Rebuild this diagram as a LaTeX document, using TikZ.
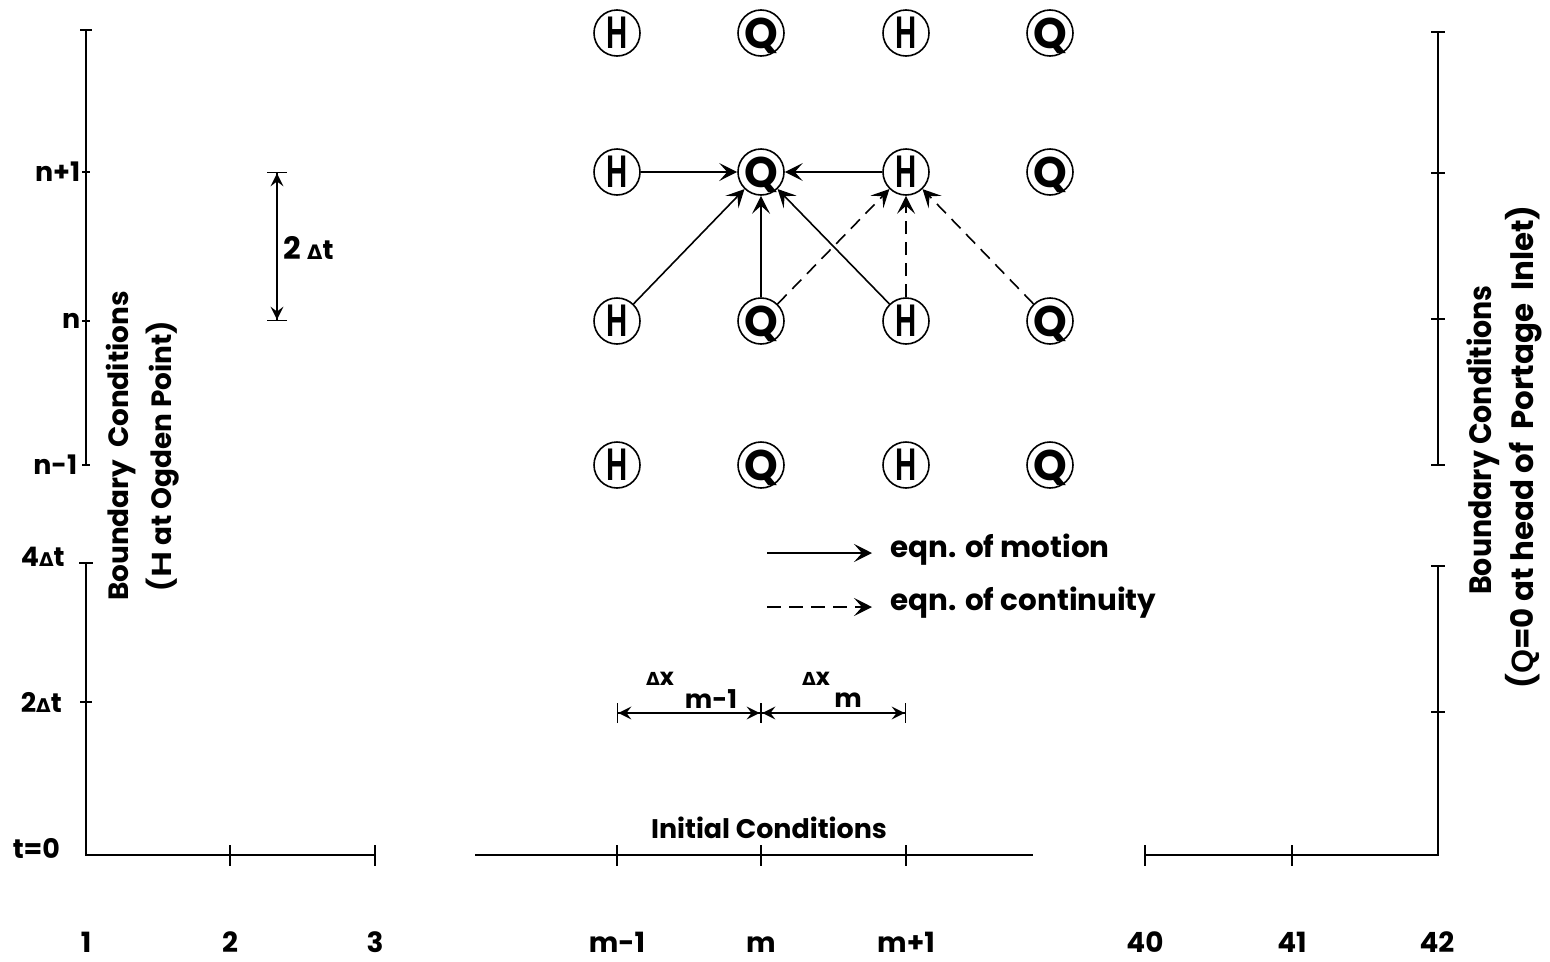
\documentclass[tikz,border=0pt]{standalone}
\usepackage{graphicx}
\usepackage{fontspec}
\setmainfont{Poppins}
\newfontfamily\symf{DejaVu Sans}
\newfontfamily\hfont{Liberation Sans}
\usetikzlibrary{arrows.meta}

% bold delta at a given size, used in the step labels
\newcommand{\dlt}[1]{{\symf\bfseries\fontsize{#1}{#1}\selectfont Δ}}

\begin{document}
\begin{tikzpicture}[x=1bp, y=-1bp, line width=1.6bp,
  lbl/.style={font=\bfseries\fontsize{27}{30}\selectfont, inner sep=0},
  num/.style={font=\bfseries\fontsize{28}{30}\selectfont, inner sep=0, anchor=base},
  side/.style={font=\bfseries\fontsize{28}{32}\selectfont, inner sep=0, rotate=90},
  gridpt/.style={circle, draw, line width=1.6bp, minimum size=46bp, inner sep=0},
  htext/.style={inner sep=0, font=\hfont\bfseries\fontsize{46}{46}\selectfont},
  qtext/.style={inner sep=0, anchor=base, font=\bfseries\fontsize{43}{43}\selectfont},
  motion/.style={-{Stealth[length=18bp, width=18bp, inset=8bp]}, line width=1.6bp},
  contin/.style={motion, dash pattern=on 13bp off 8bp},
  dimen/.style={{Bar[width=20bp]Stealth[length=13bp, width=13bp, inset=5bp]}-{Stealth[length=13bp, width=13bp, inset=5bp]Bar[width=20bp]}, line width=1.4bp}
]
\useasboundingbox (0,0) rectangle (1550,961);

% ---------- computational grid ----------
\foreach \r/\y in {0/33, 1/172, 2/321, 3/465} {
  \node[gridpt] (p\r0) at (617,\y) {};
  \node[gridpt] (p\r1) at (761,\y) {};
  \node[gridpt] (p\r2) at (906,\y) {};
  \node[gridpt] (p\r3) at (1050,\y) {};
  \node[htext] (t\r0) at (p\r0) {\scalebox{0.64}[1]{H}};
  \node[qtext] (t\r1) at ([yshift=-15bp]p\r1) {Q};
  \node[htext] (t\r2) at (p\r2) {\scalebox{0.64}[1]{H}};
  \node[qtext] (t\r3) at ([yshift=-15bp]p\r3) {Q};
}

% equation of motion (solid) and continuity (dashed) dependencies
\draw[motion] (p10) -- (p11);
\draw[motion] (p12) -- (p11);
\draw[motion] (p20) -- (p11);
\draw[motion] (p21) -- (p11);
\draw[motion] (p22) -- (p11);
\draw[contin] (p21) -- (p12);
\draw[contin] (p22) -- (p12);
\draw[contin] (p23) -- (p12);

% ---------- left time axis ----------
\draw (86,30) -- (86,465);
\draw (80,30) -- (92,30);
\foreach \y in {172,321,465} \draw (82,\y) -- (90,\y);
\draw (86,563) -- (86,855) -- (375,855);
\draw (79,563) -- (93,563);
\draw (80,702) -- (92,702);

\node[lbl, anchor=east] (ln1) at (81,172) {n+1};
\node[lbl, anchor=east] (ln0) at (81,321) {n};
\node[lbl, anchor=east] (lnm) at (78,465) {n-1};
\node[lbl, anchor=west] (l4) at (20,557) {4\dlt{19}t};
\node[lbl, anchor=west] (l2) at (20,702) {2\dlt{19}t};
\node[lbl, anchor=west] (l0) at (12,848) {t=0};

% ---------- right boundary axis ----------
\draw (1438,32) -- (1438,465);
\foreach \y in {32,173,319,465} \draw (1431,\y) -- (1445,\y);
\draw (1438,566) -- (1438,855) -- (1145,855);
\draw (1431,566) -- (1445,566);
\draw (1431,712) -- (1445,712);

% ---------- space axis ----------
\draw (475,855) -- (1033,855);
\foreach \x in {230,375,617,761,906,1145,1292} \draw (\x,845) -- (\x,866);

\foreach \x/\t in {86/1, 230/2, 375/3, 1145/40, 1292/41, 1437/42}
  \node[num] (b\t) at (\x,952) {\t};
\node[num] (bm1) at (617,952) {m-1};
\node[num] (bm) at (761,952) {m};
\node[num] (bp1) at (906,952) {m+1};

\node[lbl] (init) at (769,828) {Initial Conditions};

% ---------- time step and space steps ----------
\coordinate (ta) at (277,172);
\coordinate (tb) at (277,321);
\draw[dimen] (ta) -- (tb);
\node[lbl, anchor=west] (dt) at (283,248) {{\fontsize{31}{32}\selectfont 2} \dlt{20}t};

\coordinate (xa) at (617,713);
\coordinate (xb) at (761,713);
\coordinate (xc) at (906,713);
\draw[dimen] (xa) -- (xb);
\draw[dimen] (xb) -- (xc);
\node[font=\bfseries\fontsize{24}{24}\selectfont, inner sep=0] (dx1) at (660,679) {\dlt{18}x};
\node[font=\bfseries\fontsize{26}{26}\selectfont, inner sep=0] (sx1) at (711,699) {m-1};
\node[font=\bfseries\fontsize{24}{24}\selectfont, inner sep=0] (dx2) at (816,679) {\dlt{18}x};
\node[font=\bfseries\fontsize{26}{26}\selectfont, inner sep=0] (sx2) at (848,700) {m};

% ---------- legend ----------
\coordinate (la) at (767,553);
\coordinate (lb) at (872,553);
\coordinate (lc) at (767,607);
\coordinate (ld) at (872,607);
\draw[motion] (la) -- (lb);
\draw[contin, dash pattern=on 14bp off 8bp] (lc) -- (ld);
\node[lbl, anchor=west] (lm) at (890,550) {\fontsize{29.5}{32}\selectfont eqn. of motion};
\node[lbl, anchor=west] (lcn) at (890,603) {\fontsize{29.5}{32}\selectfont eqn. of continuity};

% ---------- boundary condition notes ----------
\node[side] (bl1) at (121,446) {Boundary\ \ Conditions};
\node[side] (bl2) at (163,456) {(\scalebox{1.3}[1]{\hfont H} at Ogden Point)};
\node[side] (br1) at (1483,440) {\fontsize{31}{32}\selectfont\scalebox{0.92}[1]{Boundary Conditions}};
\node[side] (br2) at (1524,447) {\fontsize{31}{32}\selectfont({\hfont Q}=0 at head of\ \ Portage\ \ Inlet)};
\end{tikzpicture}
\end{document}
